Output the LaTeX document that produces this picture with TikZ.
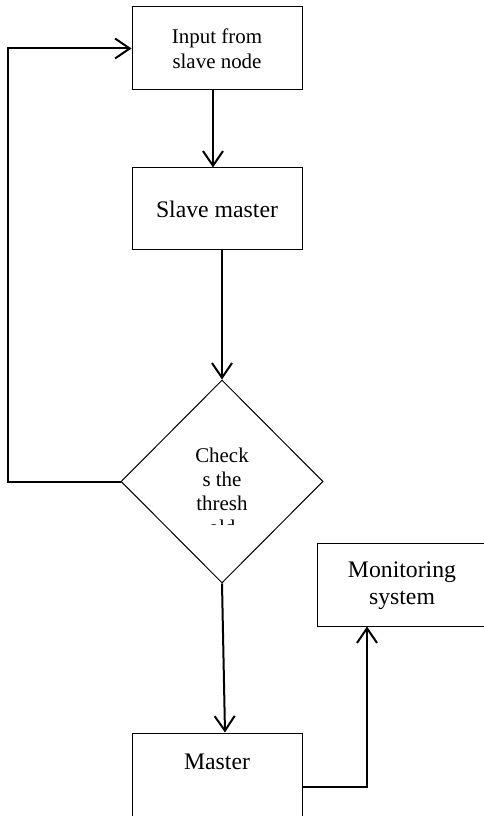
\documentclass[tikz,border=0pt]{standalone}
\usepackage{fontspec}
\setmainfont{Liberation Serif}
\usetikzlibrary{shapes.geometric, arrows.meta}
\tikzset{
  process/.style={rectangle, draw=black, line width=0.75pt, inner sep=0pt, minimum width=127.5pt, minimum height=62.25pt},
  decision/.style={diamond, draw=black, line width=0.75pt, inner sep=0pt, minimum width=151.5pt, minimum height=152.25pt},
  arrow/.style={line width=1.5pt, -{Straight Barb[length=11pt, width=15pt]}}
}
\begin{document}
\begin{tikzpicture}[
        x=0.75pt, y=-0.75pt,
        small_text/.style={font=\fontsize{15.7}{18.75}\selectfont, align=center, inner sep=0pt},
        big_text/.style={font=\fontsize{17.8}{20.5}\selectfont, align=center, inner sep=0pt}
    ]

        \useasboundingbox (0,0) rectangle (484,816);

        % Cajas
        \node[process] (input) at (217,48.5) {};
        \node[small_text] (input_text) at (217,48.5) {Input from\\slave node};

        \node[process, minimum height=61.5pt] (slave) at (217,209) {};
        \node[big_text] (slave_text) at (217,209) {Slave master};

        \node[decision] (check) at (222,481.5) {};

        \node[process] (master) at (217,774.5) {};
        \node[big_text] (master_text) at (217,762) {Master};

        \node[process] (monitor) at (402,584.5) {};
        \node[big_text] (monitor_text) at (402,586) {Monitoring\\system};

        % Texto del rombo (cortado abajo)
        \begin{scope}
            \clip (150,430) rectangle (294,524);
            \node[small_text, font=\fontsize{15.7}{18}\selectfont, anchor=north] (check_text) at (222,447.5) {Check\\s the\\thresh\\old};
        \end{scope}

        % Conexiones
        \draw[arrow] ([xshift=-3pt]input.south) -- ([xshift=-3pt]slave.north);
        \draw[arrow] (slave.south -| check.north) -- (check.north);
        \draw[arrow] (check.south) -- ([xshift=6pt]master.north);

        \coordinate (turn) at (367,787);
        \draw[arrow] (master.east |- turn) -- (turn) -- (monitor.south -| turn);

        % Retorno al inicio
        \coordinate (back) at (8,481.5);
        \draw[arrow] (check.west) -- (back) |- (input.west);

    \end{tikzpicture}
\end{document}
